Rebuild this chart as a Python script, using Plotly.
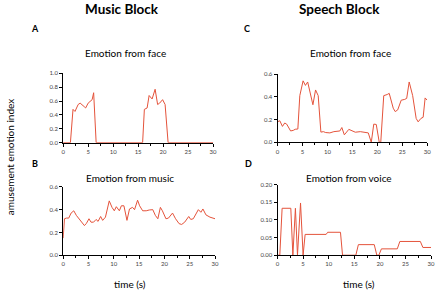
import plotly.graph_objects as go

# Panel A: Music block, emotion from face
a_t = [0, 1.45, 1.97, 2.37, 3.0, 3.4, 4.2, 4.5, 5.0, 5.5, 5.8, 6.1, 6.6,
       15.9, 16.25, 16.8, 17.2, 17.8, 18.4, 18.9, 19.3, 19.9, 20.4, 21.0, 30]
a_v = [0, 0, 0.48, 0.45, 0.55, 0.57, 0.52, 0.5, 0.57, 0.6, 0.62, 0.72, 0,
       0, 0.48, 0.5, 0.68, 0.63, 0.77, 0.55, 0.57, 0.62, 0.55, 0, 0]

# Panel B: Music block, emotion from music
b_t = [0, 0.26, 0.65, 1.1, 1.57, 2.1, 2.6, 3.1, 3.65, 4.2, 4.6, 5.1, 5.5, 6.0, 6.5, 6.9,
       7.4, 7.8, 8.35, 9.1, 9.65, 10.1, 10.5, 11.1, 11.5, 12.0, 12.6, 13.1, 13.7, 14.1,
       14.7, 15.1, 15.7, 16.4, 17.0, 17.7, 18.2, 18.7, 19.2, 19.6, 20.3, 20.8, 21.6,
       22.2, 22.9, 23.4, 24.0, 24.8, 25.2, 25.7, 26.7, 27.2, 27.6, 28.2, 29.0, 30.0]
b_v = [0.15, 0.32, 0.326, 0.326, 0.37, 0.39, 0.35, 0.32, 0.29, 0.26, 0.28, 0.32, 0.29,
       0.29, 0.314, 0.297, 0.34, 0.306, 0.334, 0.477, 0.42, 0.39, 0.426, 0.39, 0.434,
       0.434, 0.306, 0.406, 0.42, 0.4, 0.483, 0.434, 0.39, 0.39, 0.397, 0.4, 0.35, 0.32,
       0.42, 0.39, 0.32, 0.326, 0.37, 0.32, 0.277, 0.27, 0.29, 0.34, 0.314, 0.32, 0.4,
       0.377, 0.406, 0.354, 0.334, 0.32]

# Panel C: Speech block, emotion from face
c_t = [0, 0.46, 0.99, 1.45, 1.84, 2.63, 3.16, 3.55, 4.08, 4.47, 5.13, 5.6, 6.05, 6.64,
       7.1, 7.63, 8.16, 8.7, 9.2, 9.67, 10.5, 11.3, 12.0, 12.5, 12.9, 13.4, 14.3, 14.9,
       15.6, 16.6, 17.6, 18.2, 18.8, 19.3, 19.8, 20.4, 20.7, 21.3, 22.0, 22.4, 23.2,
       23.6, 24.1, 24.8, 25.5, 25.9, 26.4, 27.1, 27.8, 28.2, 28.75, 29.2, 29.6, 30.0]
c_v = [0.18, 0.19, 0.14, 0.17, 0.16, 0.10, 0.105, 0.115, 0.117, 0.41, 0.54, 0.5, 0.53,
       0.42, 0.33, 0.46, 0.41, 0.09, 0.094, 0.086, 0.083, 0.094, 0.097, 0.1, 0.13, 0.066,
       0.114, 0.1, 0.089, 0.094, 0.083, 0.083, 0.0, 0.16, 0.157, 0.0, 0.0, 0.41, 0.42,
       0.43, 0.30, 0.27, 0.285, 0.37, 0.377, 0.386, 0.53, 0.41, 0.21, 0.18, 0.21, 0.22,
       0.39, 0.37]

# Panel D: Speech block, emotion from voice
d_t = [0, 0.45, 0.9, 2.6, 3.0, 3.5, 3.9, 4.5, 5.0, 5.4, 9.5, 9.8, 12.3, 12.7, 15.3,
       15.8, 18.9, 19.4, 19.8, 20.3, 23.4, 23.9, 27.9, 28.4, 30.0]
d_v = [0, 0, 0.133, 0.133, 0, 0.133, 0, 0.148, 0, 0.059, 0.059, 0.065, 0.065, 0, 0,
       0.03, 0.03, 0, 0, 0.018, 0.018, 0.039, 0.039, 0.022, 0.022]

x_ticks = [0, 5, 10, 15, 20, 25, 30]

W, H = 441, 296
LINE = "#e4533b"
FONT = "Lato, 'Open Sans', sans-serif"

def px(x):
    return x / W

def py(y):
    return 1 - y / H

panels = [
    (a_t, a_v, (62, 214), (71, 142), [0, 1.0], [0, 0.2, 0.4, 0.6, 0.8, 1.0], ".1f"),
    (b_t, b_v, (62, 216), (187.3, 257.3), [0, 0.6], [0, 0.2, 0.4, 0.6], ".1f"),
    (c_t, c_v, (279.3, 431), (71.7, 141.7), [0, 0.6], [0, 0.2, 0.4, 0.6], ".1f"),
    (d_t, d_v, (279.3, 435), (185, 257.3), [0, 0.2], [0, 0.05, 0.10, 0.15, 0.20], ".2f"),
]

fig = go.Figure()
layout = {}
for i, (t, v, xd, yd, yr, ytv, yfmt) in enumerate(panels, start=1):
    xa = "x" if i == 1 else f"x{i}"
    ya = "y" if i == 1 else f"y{i}"
    fig.add_trace(go.Scatter(x=t, y=v, mode="lines", xaxis=xa, yaxis=ya,
                             line=dict(color=LINE, width=1), showlegend=False,
                             hoverinfo="skip", cliponaxis=False))
    xkey = "xaxis" if i == 1 else f"xaxis{i}"
    ykey = "yaxis" if i == 1 else f"yaxis{i}"
    layout[xkey] = dict(domain=[px(xd[0]), px(xd[1])], anchor=ya, range=[0, 30],
                        tickvals=x_ticks, showgrid=False, zeroline=False,
                        showline=True, linecolor="black", linewidth=1,
                        ticks="outside", ticklen=3, tickcolor="black",
                        tickfont=dict(size=6, color="#444", family=FONT),
                        minor=dict(dtick=2.5, ticks="outside", ticklen=2,
                                   tickcolor="black", tick0=0))
    layout[ykey] = dict(domain=[py(yd[1]), py(yd[0])], anchor=xa, range=yr,
                        tickvals=ytv, tickformat=yfmt, showgrid=False, zeroline=False,
                        showline=True, linecolor="black", linewidth=1,
                        ticks="outside", ticklen=3, tickcolor="black",
                        tickfont=dict(size=6, color="#444", family=FONT))

def ann(text, x, y, size, bold=False, angle=0):
    return dict(text=f"<b>{text}</b>" if bold else text, x=px(x), y=py(y),
                xref="paper", yref="paper", showarrow=False, textangle=angle,
                xanchor="center", yanchor="middle",
                font=dict(size=size, color="black", family=FONT))

annotations = [
    ann("Music Block", 122, 5, 13.5, bold=True),
    ann("Speech Block", 342, 5, 13.5, bold=True),
    ann("A", 33, 25, 9, bold=True),
    ann("C", 248, 25, 9, bold=True),
    ann("B", 33, 163, 9, bold=True),
    ann("D", 250, 163, 9, bold=True),
    ann("Emotion from face", 125, 50, 10),
    ann("Emotion from face", 353, 50, 10),
    ann("Emotion from music", 130, 178, 10),
    ann("Emotion from voice", 352, 178, 10),
    ann("time (s)", 130, 287, 10),
    ann("time (s)", 362, 287, 10),
    ann("amusement emotion index", 8, 157, 10, angle=-90),
]

fig.update_layout(width=W, height=H, margin=dict(l=0, r=0, t=0, b=0),
                  paper_bgcolor="white", plot_bgcolor="white",
                  annotations=annotations, **layout)

# Remove the browser's default 8px body margin so the figure sits at the page origin.
fig.write_html("out.html", config={"displayModeBar": False},
               post_script="document.body.style.margin='0';")
